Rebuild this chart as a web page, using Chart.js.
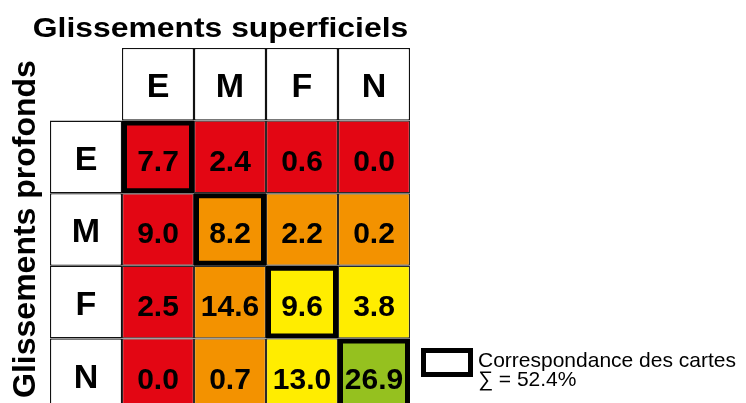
<!DOCTYPE html>
<html><head><meta charset="utf-8">
<script src="https://cdn.jsdelivr.net/npm/chart.js@4"></script>
<style>html,body{margin:0;padding:0;background:#fff}#wrap{width:746px;height:403px;position:relative}</style>
</head><body><div id="wrap"><canvas id="c"></canvas></div>
<script>
// ---- data ----
const superficialCats = ['E', 'M', 'F', 'N'];   // columns (Glissements superficiels)
const deepCats = ['E', 'M', 'F', 'N'];          // rows (Glissements profonds)
const rowE = [7.7, 2.4, 0.6, 0.0];
const rowM = [9.0, 8.2, 2.2, 0.2];
const rowF = [2.5, 14.6, 9.6, 3.8];
const rowN = [0.0, 0.7, 13.0, 26.9];
const values = [rowE, rowM, rowF, rowN];
const titleTop = 'Glissements superficiels';
const titleLeft = 'Glissements profonds';
const legendLabel = 'Correspondance des cartes';
const classColors = ['#E30613', '#F39200', '#FFED00', '#95C11F'];

const FONT = '"Liberation Sans", Arial, Helvetica, sans-serif';
const xLabels = [''].concat(superficialCats);

const headerData = [], headerText = [];
superficialCats.forEach(c => { headerData.push({x: c, y: [-1.5, -0.5]}); headerText.push(c); });
deepCats.forEach((r, ri) => { headerData.push({x: '', y: [ri - 0.5, ri + 0.5]}); headerText.push(r); });

const cellData = [], cellColors = [], cellText = [];
const diagData = [];
let diagSum = 0;
deepCats.forEach((r, ri) => superficialCats.forEach((c, ci) => {
  cellData.push({x: c, y: [ri - 0.5, ri + 0.5]});
  cellColors.push(classColors[Math.min(ri, ci)]);
  cellText.push(values[ri][ci].toFixed(1));
  if (r === c) { diagData.push({x: c, y: [ri - 0.5, ri + 0.5]}); diagSum += values[ri][ci]; }
}));

const textPlugin = {
  id: 'cellText',
  afterDatasetsDraw(chart) {
    const ctx = chart.ctx;
    chart.data.datasets.forEach((ds, i) => {
      if (!ds.texts) return;
      const meta = chart.getDatasetMeta(i);
      ctx.save();
      ctx.fillStyle = '#000';
      ctx.font = 'bold ' + ds.textSize + 'px ' + FONT;
      ctx.textAlign = 'center';
      ctx.textBaseline = 'alphabetic';
      meta.data.forEach((el, j) => {
        const p = el.getCenterPoint();
        ctx.fillText(ds.texts[j], p.x, p.y + ds.textShift);
      });
      ctx.restore();
    });
  },
  afterDraw(chart) {
    const ctx = chart.ctx;
    ctx.save();
    ctx.fillStyle = '#000';
    // top title
    ctx.font = 'bold 27px ' + FONT;
    ctx.textAlign = 'center';
    ctx.textBaseline = 'alphabetic';
    ctx.save();
    ctx.translate(220.5, 37);
    ctx.scale(1.18, 1);
    ctx.fillText(titleTop, 0, 0);
    ctx.restore();
    // left title
    ctx.save();
    ctx.font = 'bold 32px ' + FONT;
    ctx.translate(35, 229);
    ctx.rotate(-Math.PI / 2);
    ctx.fillText(titleLeft, 0, 0);
    ctx.restore();
    // legend
    ctx.lineWidth = 5;
    ctx.strokeStyle = '#000';
    ctx.strokeRect(423.5, 350.5, 47, 24);
    ctx.font = '21px ' + FONT;
    ctx.textAlign = 'left';
    ctx.fillText(legendLabel, 478, 367);
    ctx.fillText('\u2211 = ' + diagSum.toFixed(1) + '%', 478, 386);
    ctx.restore();
  }
};

new Chart(document.getElementById('c'), {
  type: 'bar',
  data: {
    labels: xLabels,
    datasets: [
      {label: 'match', data: diagData, backgroundColor: 'rgba(0,0,0,0)', borderColor: '#000', borderWidth: 5,
       grouped: false, barPercentage: 1, categoryPercentage: 1},
      {label: 'cells', data: cellData, backgroundColor: cellColors, borderColor: '#2a2a2a', borderWidth: 1.2,
       texts: cellText, textSize: 30, textShift: 14, grouped: false, barPercentage: 1, categoryPercentage: 1},
      {label: 'headers', data: headerData, backgroundColor: '#fff', borderColor: '#111', borderWidth: 1.3,
       texts: headerText, textSize: 34, textShift: 13, grouped: false, barPercentage: 1, categoryPercentage: 1}
    ]
  },
  options: {
    responsive: true, maintainAspectRatio: false, animation: false,
    layout: {padding: {left: 50, top: 48, right: 336, bottom: 0}},
    scales: {
      x: {type: 'category', display: false, offset: true, grid: {display: false}},
      y: {type: 'linear', reverse: true, min: -1.5, max: 3.39, display: false}
    },
    elements: {bar: {borderSkipped: false, inflateAmount: 0}},
    plugins: {legend: {display: false}, tooltip: {enabled: false}, title: {display: false}}
  },
  plugins: [textPlugin]
});
</script>
</body></html>
